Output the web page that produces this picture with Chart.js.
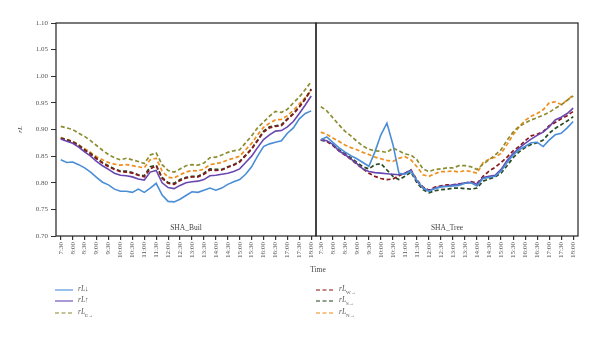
<!DOCTYPE html>
<html>
<head>
<meta charset="utf-8">
<script src="https://cdn.jsdelivr.net/npm/chart.js@4.4.0/dist/chart.umd.min.js"></script>
<style>
  body { margin: 0; background: #fff; }
  #wrap { position: relative; width: 600px; height: 338px; font-family: "Liberation Serif", "DejaVu Serif", serif; color: #555; }
  #leftChart { position: absolute; left: 0; top: 0; }
  #rightChart { position: absolute; left: 310px; top: 0; }
  #timeTitle { position: absolute; left: 288px; width: 60px; top: 265px; text-align: center; font-size: 7.5px; color: #444; }
  .legend-item { position: absolute; height: 10px; font-size: 7.5px; font-style: italic; white-space: nowrap; }
  .legend-item svg { position: absolute; left: 0; top: 2px; }
  .legend-item span { position: absolute; left: 23px; top: -1px; }
  .legend-item sub { font-size: 5px; font-style: normal; }
</style>
</head>
<body>
<div id="wrap">
  <canvas id="leftChart" width="330" height="268"></canvas>
  <canvas id="rightChart" width="290" height="268"></canvas>
  <div id="timeTitle">Time</div>
  <div id="legend"></div>
</div>
<script>
// sample times (every 15 min)
let times = ['7:30','7:45','8:00','8:15','8:30','8:45','9:00','9:15','9:30','9:45',
  '10:00','10:15','10:30','10:45','11:00','11:15','11:30','11:45','12:00','12:15',
  '12:30','12:45','13:00','13:15','13:30','13:45','14:00','14:15','14:30','14:45',
  '15:00','15:15','15:30','15:45','16:00','16:15','16:30','16:45','17:00','17:15',
  '17:30','17:45','18:00'];
let yTicks = [0.70, 0.75, 0.80, 0.85, 0.90, 0.95, 1.00, 1.05, 1.10];

// SHA_Buil
let builDown = [0.843,0.838,0.839,0.834,0.828,0.820,0.810,0.801,0.796,0.788,
  0.784,0.784,0.782,0.788,0.782,0.790,0.799,0.777,0.765,0.764,
  0.769,0.776,0.783,0.782,0.786,0.790,0.786,0.790,0.797,0.802,
  0.806,0.816,0.830,0.850,0.868,0.873,0.876,0.879,0.893,0.903,
  0.920,0.930,0.935];
let builUp = [0.882,0.878,0.874,0.867,0.858,0.850,0.840,0.832,0.825,0.818,
  0.814,0.813,0.811,0.807,0.805,0.820,0.823,0.800,0.791,0.789,
  0.795,0.800,0.802,0.803,0.806,0.813,0.814,0.816,0.818,0.821,
  0.826,0.838,0.850,0.866,0.881,0.890,0.897,0.898,0.905,0.915,
  0.930,0.946,0.963];
let builE = [0.906,0.903,0.900,0.893,0.887,0.879,0.870,0.861,0.853,0.847,
  0.843,0.846,0.843,0.840,0.836,0.852,0.856,0.834,0.823,0.820,
  0.826,0.832,0.834,0.833,0.837,0.847,0.848,0.852,0.857,0.860,
  0.862,0.875,0.888,0.903,0.914,0.925,0.934,0.932,0.938,0.950,
  0.961,0.975,0.990];
let builW = [0.883,0.880,0.876,0.869,0.861,0.853,0.845,0.837,0.830,0.825,
  0.821,0.820,0.818,0.814,0.811,0.826,0.832,0.808,0.799,0.797,
  0.804,0.809,0.811,0.811,0.816,0.824,0.823,0.824,0.829,0.833,
  0.839,0.851,0.863,0.879,0.895,0.903,0.906,0.907,0.919,0.929,
  0.942,0.957,0.975];
let builS = [0.884,0.881,0.877,0.871,0.862,0.855,0.846,0.838,0.832,0.826,
  0.822,0.822,0.819,0.815,0.813,0.830,0.833,0.810,0.800,0.799,
  0.806,0.810,0.812,0.812,0.818,0.826,0.825,0.825,0.830,0.834,
  0.840,0.852,0.864,0.880,0.897,0.905,0.907,0.909,0.920,0.930,
  0.943,0.958,0.976];
let builN = [0.885,0.881,0.878,0.871,0.864,0.857,0.849,0.843,0.838,0.835,
  0.833,0.834,0.832,0.830,0.828,0.843,0.846,0.822,0.810,0.809,
  0.815,0.820,0.823,0.822,0.826,0.834,0.836,0.838,0.843,0.846,
  0.850,0.862,0.874,0.890,0.904,0.912,0.918,0.919,0.926,0.936,
  0.948,0.960,0.973];

// SHA_Tree
let treeDown = [0.881,0.886,0.876,0.866,0.858,0.851,0.845,0.838,0.831,0.858,
  0.890,0.912,0.872,0.818,0.816,0.822,0.804,0.790,0.784,0.789,
  0.792,0.793,0.794,0.795,0.799,0.800,0.794,0.808,0.810,0.812,
  0.822,0.838,0.852,0.862,0.868,0.875,0.876,0.868,0.880,0.890,
  0.893,0.903,0.915];
let treeUp = [0.881,0.879,0.872,0.860,0.853,0.845,0.836,0.826,0.821,0.819,
  0.818,0.817,0.816,0.815,0.818,0.824,0.803,0.790,0.785,0.790,
  0.793,0.794,0.796,0.797,0.800,0.801,0.797,0.810,0.812,0.814,
  0.825,0.842,0.855,0.865,0.874,0.882,0.889,0.895,0.905,0.918,
  0.923,0.930,0.940];
let treeE = [0.943,0.935,0.922,0.909,0.897,0.888,0.878,0.869,0.863,0.860,
  0.859,0.857,0.865,0.860,0.854,0.852,0.843,0.826,0.821,0.825,
  0.826,0.828,0.828,0.832,0.832,0.830,0.825,0.835,0.843,0.852,
  0.862,0.880,0.895,0.906,0.912,0.918,0.922,0.927,0.932,0.940,
  0.946,0.955,0.963];
let treeW = [0.881,0.878,0.870,0.860,0.852,0.844,0.835,0.826,0.818,0.812,
  0.808,0.806,0.807,0.813,0.818,0.824,0.805,0.792,0.786,0.792,
  0.794,0.796,0.796,0.798,0.799,0.802,0.799,0.812,0.822,0.829,
  0.838,0.848,0.860,0.868,0.879,0.888,0.891,0.896,0.907,0.913,
  0.920,0.926,0.934];
let treeS = [0.880,0.878,0.871,0.862,0.855,0.847,0.838,0.830,0.826,0.834,
  0.836,0.824,0.812,0.806,0.812,0.820,0.800,0.787,0.781,0.785,
  0.787,0.788,0.790,0.790,0.789,0.788,0.790,0.803,0.807,0.811,
  0.818,0.832,0.847,0.858,0.866,0.872,0.875,0.880,0.893,0.902,
  0.909,0.916,0.924];
let treeN = [0.895,0.891,0.884,0.878,0.871,0.866,0.862,0.857,0.853,0.848,
  0.845,0.842,0.840,0.846,0.849,0.843,0.830,0.815,0.812,0.817,
  0.821,0.821,0.822,0.820,0.823,0.821,0.818,0.838,0.844,0.848,
  0.855,0.872,0.890,0.905,0.917,0.925,0.930,0.937,0.950,0.952,
  0.947,0.955,0.965];

// legend names: base + subscript
let seriesNames = ['rL↓', 'rL↑', 'rL', 'rL', 'rL', 'rL'];
let seriesSubs = ['', '', 'E→', 'W→', 'S→', 'N→'];
let seriesColors = ['#4a8ed6', '#6848b0', '#8c8c32', '#8a1a1a', '#284a22', '#f08e1e'];
let seriesDashed = [false, false, true, true, true, true];

// minutes after 7:30 for each sample
let minutes = times.map(t => {
    let p = t.split(':');
    return Number(p[0]) * 60 + Number(p[1]) - 450;
});
let tickMinutes = minutes.filter((m, i) => times[i].endsWith(':00') || times[i].endsWith(':30'));

Chart.defaults.font.family = '"Liberation Serif", "DejaVu Serif", serif';
Chart.defaults.color = '#555';

//frame around the panel and its name
let panelFrame = {
    id: 'panelFrame',
    afterDraw(chart, args, opts) {
        let a = chart.chartArea;
        let ctx = chart.ctx;
        ctx.save();
        ctx.strokeStyle = '#222';
        ctx.lineWidth = 1.2;
        ctx.strokeRect(a.left, a.top, a.right - a.left, a.bottom - a.top);
        ctx.fillStyle = '#444';
        ctx.font = '7.5px "Liberation Serif", serif';
        ctx.textAlign = 'center';
        ctx.textBaseline = 'middle';
        ctx.fillText(opts.name, (a.left + a.right) / 2, a.bottom - 8);
        ctx.restore();
    }
};

function makeDatasets(list) {
    return list.map((vals, i) => ({
        label: seriesNames[i] + seriesSubs[i],
        data: vals.map((v, k) => ({ x: minutes[k], y: v })),
        borderColor: seriesColors[i],
        borderWidth: seriesDashed[i] ? 1.7 : 1.6,
        borderDash: seriesDashed[i] ? [4, 2.5] : [],
        pointRadius: 0,
        tension: 0,
        fill: false
    }));
}

function makeChart(id, name, list, showY, padding) {
    let ctx = document.getElementById(id).getContext('2d');
    return new Chart(ctx, {
        type: 'line',
        data: { datasets: makeDatasets(list) },
        plugins: [panelFrame],
        options: {
            responsive: false,
            animation: false,
            layout: { padding: padding },
            plugins: {
                legend: { display: false },
                tooltip: { enabled: false },
                panelFrame: { name: name }
            },
            scales: {
                x: {
                    type: 'linear',
                    min: -12,
                    max: 642,
                    afterBuildTicks: axis => { axis.ticks = tickMinutes.map(v => ({ value: v })); },
                    afterFit: axis => { axis.height = 32; },
                    ticks: {
                        autoSkip: false,
                        maxRotation: 90,
                        minRotation: 90,
                        padding: 2,
                        font: { size: 7 },
                        callback: v => times[minutes.indexOf(v)]
                    },
                    grid: { drawOnChartArea: false, drawTicks: true, tickLength: 4, color: '#333', lineWidth: 1.2 },
                    border: { display: false }
                },
                y: {
                    display: showY,
                    min: 0.70,
                    max: 1.10,
                    afterBuildTicks: axis => { axis.ticks = yTicks.map(v => ({ value: v })); },
                    afterFit: axis => { axis.width = showY ? 40 : 0; },
                    ticks: {
                        padding: 3,
                        font: { size: 7 },
                        callback: v => v.toFixed(2)
                    },
                    grid: { drawOnChartArea: false, drawTicks: true, tickLength: 5, color: '#333', lineWidth: 1 },
                    border: { display: false },
                    title: {
                        display: true,
                        text: 'rL',
                        color: '#444',
                        padding: 0,
                        font: { size: 7, style: 'italic' }
                    }
                }
            }
        }
    });
}

makeChart('leftChart', 'SHA_Buil', [builDown, builUp, builE, builW, builS, builN], true,
    { left: 16, top: 23, right: 14, bottom: 0 });
makeChart('rightChart', 'SHA_Tree', [treeDown, treeUp, treeE, treeW, treeS, treeN], false,
    { left: 6, top: 23, right: 22, bottom: 0 });

//legend in two columns
function addLegend() {
    let html = '';
    let colX = [55, 316];
    let rowY = [285, 296, 307.5];
    seriesNames.forEach((name, i) => {
        let col = Math.floor(i / 3);
        let row = i % 3;
        let dash = seriesDashed[i] ? 'stroke-dasharray="4 2.5"' : '';
        html += `<div class="legend-item" style="left:${colX[col]}px;top:${rowY[row]}px;">
            <svg width="18" height="6"><line x1="0" y1="3" x2="18" y2="3" stroke="${seriesColors[i]}" stroke-opacity="0.7" stroke-width="1.6" ${dash}/></svg>
            <span>${name}${seriesSubs[i] ? '<sub>' + seriesSubs[i] + '</sub>' : ''}</span>
        </div>`;
    });
    document.getElementById('legend').innerHTML = html;
}
addLegend();
</script>
</body>
</html>
